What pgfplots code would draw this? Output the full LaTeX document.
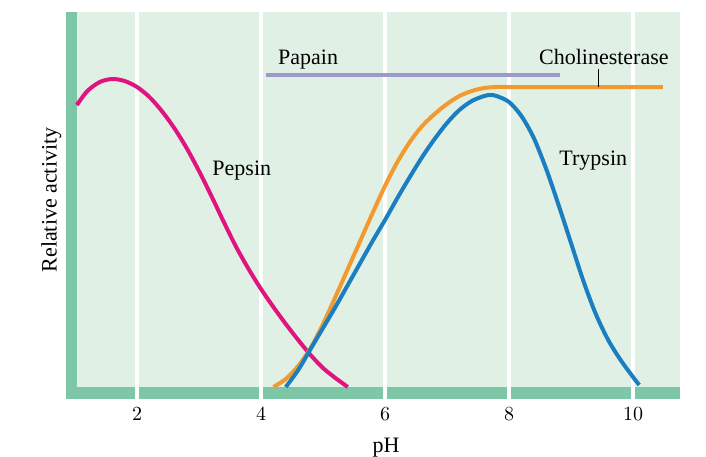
\documentclass[border=0pt]{standalone}
\usepackage{fontspec}
\setmainfont{Liberation Serif}
\usepackage{pgfplots}
\pgfplotsset{compat=1.18}
\definecolor{bgcol}{HTML}{E1F0E4}
\definecolor{barcol}{HTML}{7DC6A8}
\definecolor{pepcol}{HTML}{E0147E}
\definecolor{chocol}{HTML}{F29A2F}
\definecolor{trycol}{HTML}{1A7EC1}
\definecolor{papcol}{HTML}{9D9ACB}
\begin{document}
\begin{tikzpicture}
\begin{axis}[
  at={(0,0)}, anchor=south west,
  scale only axis, width=307pt, height=193.5pt,
  xmin=0.8548, xmax=10.758, ymin=-12, ymax=375,
  axis line style={draw=none},
  xtick={2,4,6,8,10}, ytick=\empty,
  major tick length=0pt,
  axis background/.style={fill=bgcol},
  xticklabel style={font=\fontsize{10}{12}\selectfont, yshift=-0.7pt},
  xlabel={pH},
  xlabel style={at={(axis description cs:0.5212,-0.1395)}, anchor=base, font=\fontsize{11}{13}\selectfont},
  ylabel={Relative activity},
  ylabel style={at={(axis description cs:-0.01515,0.5142)}, anchor=base, font=\fontsize{11}{13}\selectfont},
  every axis plot/.append style={no markers, line width=2pt},
]
% frame bars
\fill[barcol] (axis cs:0.8548,-12) rectangle (axis cs:10.758,0);
\fill[barcol] (axis cs:0.8548,-12) rectangle (axis cs:1.032,375);
% white gridlines
\foreach \g in {2,4,6,8,10}{
  \edef\temp{\noexpand\draw[white, line width=2.2pt] (axis cs:\g,-12) -- (axis cs:\g,375);}
  \temp
}
% Pepsin
\addplot[pepcol, smooth] coordinates {
(1.03,282) (1.2,296) (1.4,305) (1.6,308) (1.8,306) (2.0,300) (2.2,290) (2.4,276) (2.6,259) (2.8,239) (3.0,216) (3.2,191) (3.4,165) (3.6,140) (3.8,118) (4.0,98) (4.2,80) (4.4,63) (4.6,47) (4.8,32) (5.0,19) (5.2,9) (5.4,0)};
% Cholinesterase
\addplot[chocol, smooth] coordinates {
(4.2,0) (4.4,8) (4.6,21) (4.8,39) (5.0,63) (5.2,90) (5.4,118) (5.6,146) (5.8,174) (6.0,201) (6.2,225) (6.4,245) (6.6,261) (6.8,273) (7.0,283) (7.2,291) (7.4,296) (7.6,299) (7.8,300) (8.0,300) (9.0,300) (10.48,300)};
% Trypsin
\addplot[trycol, smooth] coordinates {
(4.4,0) (4.6,17) (4.8,38) (5.0,59) (5.2,80) (5.4,102) (5.6,124) (5.8,146) (6.0,167) (6.2,189) (6.4,210) (6.6,230) (6.8,248) (7.0,264) (7.2,277) (7.4,286) (7.6,291) (7.7,292) (7.8,291) (8.0,285) (8.2,271) (8.4,249) (8.6,218) (8.8,182) (9.0,144) (9.2,106) (9.4,73) (9.6,47) (9.8,27) (10.0,10) (10.1,2)};
% Papain
\addplot[papcol, line width=2.3pt] coordinates {(4.08,312) (8.82,312)};
% leader line
\draw[black, line width=0.5pt] (axis cs:9.447,317.7) -- (axis cs:9.447,300);
% labels
\node[anchor=base, font=\fontsize{11}{13}\selectfont] at (axis cs:4.76,322.7) {Papain};
\node[anchor=base, font=\fontsize{11}{13}\selectfont] at (axis cs:9.53,322.7) {Cholinesterase};
\node[anchor=base, font=\fontsize{11}{13}\selectfont] at (axis cs:3.69,212) {Pepsin};
\node[anchor=base, font=\fontsize{11}{13}\selectfont] at (axis cs:9.36,221.3) {Trypsin};
\end{axis}
\pgfresetboundingbox
\useasboundingbox (-33pt,-28.5pt) rectangle (320pt,199.5pt);
\end{tikzpicture}
\end{document}
